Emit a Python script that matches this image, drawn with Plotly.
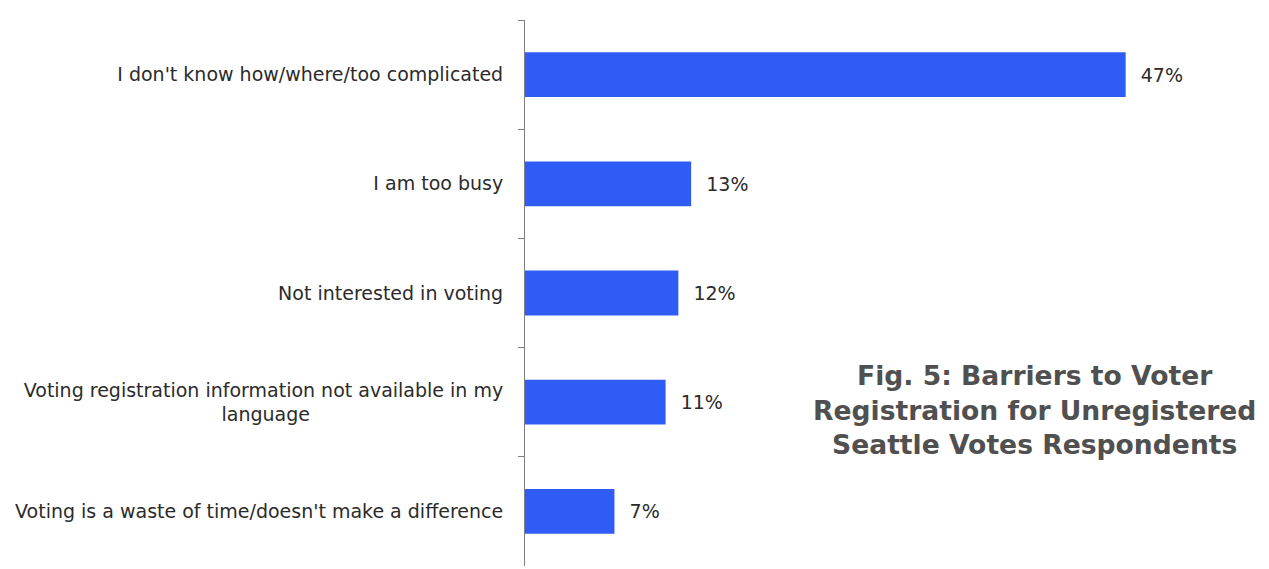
import plotly.graph_objects as go

categories = [
    "I don't know how/where/too complicated",
    "I am too busy",
    "Not interested in voting",
    "Voting registration information not available in my<br>language",
    "Voting is a waste of time/doesn't make a difference",
]
values = [47, 13, 12, 11, 7]
value_labels = ["47%", "13%", "12%", "11%", "7%"]
title_text = "Fig. 5: Barriers to Voter<br>Registration for Unregistered<br>Seattle Votes Respondents"

# page body has an 8px margin; work in page pixels minus 8
OFF = 8
W, H = 1269 - OFF, 569 - OFF
ml, mt = 525 - OFF, 20 - OFF
plot_right, plot_bottom = 1164 - OFF, 566 - OFF
mr, mb = W - plot_right, H - plot_bottom

# centre the second line of wrapped labels by padding with no-break spaces
def centred(label):
    if "<br>" not in label:
        return label
    return label + "\u00a0" * 32

y_labels = [centred(c) for c in categories]

fig = go.Figure()
fig.add_trace(go.Bar(
    x=values,
    y=y_labels,
    orientation="h",
    marker=dict(color="#2E5CF4", line=dict(width=0)),
    width=0.41,
    text=["\u00a0\u00a0" + t for t in value_labels],
    textposition="outside",
    textfont=dict(family="DejaVu Sans", size=19, color="#2b2b2b"),
    cliponaxis=False,
    hoverinfo="skip",
))

pw = W - ml - mr
ph = H - mt - mb

fig.update_layout(
    width=W, height=H,
    margin=dict(l=ml, r=mr, t=mt, b=mb, autoexpand=False),
    paper_bgcolor="white", plot_bgcolor="white",
    showlegend=False,
    xaxis=dict(range=[0, 50], visible=False, fixedrange=True),
    yaxis=dict(
        type="category",
        autorange="reversed",
        tickson="boundaries",
        ticks="outside", ticklen=6, tickcolor="#7f7f7f", tickwidth=1,
        showline=True, linecolor="#7f7f7f", linewidth=1,
        showgrid=False,
        tickfont=dict(family="DejaVu Sans", size=19, color="#2b2b2b"),
        ticklabelstandoff=17,
        fixedrange=True,
    ),
    annotations=[dict(
        x=(1034 - OFF - ml) / pw, y=1 - (410 - OFF - mt) / ph,
        xref="paper", yref="paper", xanchor="center", yanchor="middle",
        text=title_text, showarrow=False,
        font=dict(family="DejaVu Sans", size=26.6, color="#505050", weight="bold"),
        align="center",
    )],
)

fig.write_html("out.html")
